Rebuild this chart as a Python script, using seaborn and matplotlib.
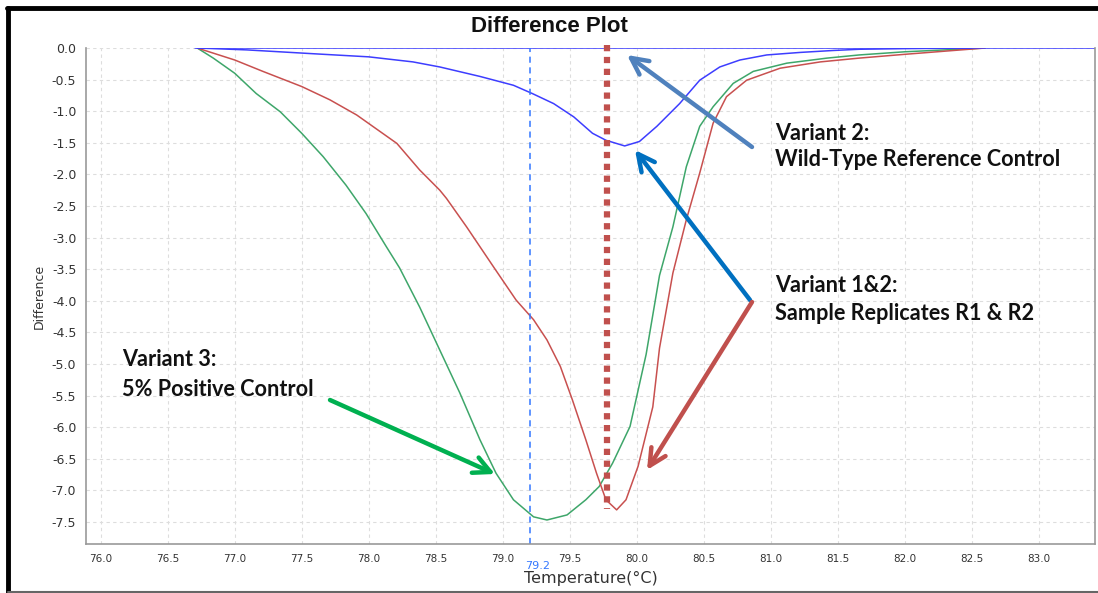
import numpy as np
import pandas as pd
import matplotlib
matplotlib.use("Agg")
import matplotlib.pyplot as plt
import seaborn as sns
from matplotlib.lines import Line2D

# ---------------- data ----------------
green_t = [76.72, 76.84, 77.00, 77.16, 77.34, 77.50, 77.66, 77.83, 77.98, 78.13, 78.23, 78.38,
           78.53, 78.68, 78.83, 78.95, 79.08, 79.23, 79.33, 79.48, 79.62, 79.72, 79.82, 79.95,
           80.07, 80.17, 80.27, 80.37, 80.47, 80.57, 80.72, 80.87, 81.12, 81.42, 81.66, 82.00,
           82.30, 82.60]
green_v = [0.00, -0.16, -0.40, -0.72, -1.01, -1.35, -1.72, -2.17, -2.62, -3.14, -3.48, -4.10,
           -4.78, -5.46, -6.20, -6.73, -7.15, -7.42, -7.47, -7.39, -7.15, -6.94, -6.57, -5.99,
           -4.85, -3.60, -2.83, -1.88, -1.24, -0.93, -0.56, -0.37, -0.24, -0.16, -0.11, -0.06,
           -0.03, 0.00]

red_t = [76.72, 77.00, 77.21, 77.50, 77.71, 77.91, 78.21, 78.38, 78.53, 78.58, 78.73, 78.93,
         79.10, 79.23, 79.33, 79.43, 79.52, 79.62, 79.70, 79.77, 79.85, 79.92, 80.01, 80.12,
         80.17, 80.27, 80.37, 80.47, 80.57, 80.67, 80.82, 81.07, 81.37, 81.66, 82.00, 82.30,
         82.60]
red_v = [0.00, -0.19, -0.37, -0.61, -0.82, -1.06, -1.51, -1.93, -2.25, -2.38, -2.83, -3.46,
         -3.99, -4.30, -4.62, -5.04, -5.57, -6.20, -6.73, -7.15, -7.31, -7.15, -6.62, -5.68,
         -4.75, -3.56, -2.72, -1.98, -1.19, -0.77, -0.51, -0.32, -0.22, -0.16, -0.10, -0.05,
         0.00]

blue_t = [76.72, 77.09, 77.58, 78.00, 78.33, 78.53, 78.83, 79.08, 79.22, 79.38, 79.53, 79.67,
          79.77, 79.91, 80.02, 80.15, 80.32, 80.47, 80.62, 80.77, 80.97, 81.22, 81.46, 81.66,
          82.00, 82.50]
blue_v = [0.00, -0.03, -0.09, -0.14, -0.22, -0.30, -0.45, -0.59, -0.72, -0.88, -1.09, -1.35,
          -1.46, -1.55, -1.48, -1.24, -0.88, -0.51, -0.30, -0.19, -0.11, -0.07, -0.04, -0.02,
          -0.01, 0.00]

ref_t = [76.70, 83.42]
ref_v = [0.00, 0.00]

marker_blue = 79.2
marker_red = 79.78

x_ticks = [76.0, 76.5, 77.0, 77.5, 78.0, 78.5, 79.0, 79.5, 80.0, 80.5, 81.0, 81.5, 82.0, 82.5, 83.0]
y_ticks = [0.0, -0.5, -1.0, -1.5, -2.0, -2.5, -3.0, -3.5, -4.0, -4.5, -5.0, -5.5, -6.0, -6.5, -7.0, -7.5]

frames = []
for name, t, v in [("Variant 3", green_t, green_v), ("Variant 1&2", red_t, red_v),
                   ("Variant 2", blue_t, blue_v), ("Ref", ref_t, ref_v)]:
    frames.append(pd.DataFrame({"Temperature": t, "Difference": v, "series": name}))
df = pd.concat(frames, ignore_index=True)

palette = {"Variant 3": "#3ea66a", "Variant 1&2": "#c8504f", "Variant 2": "#3d3dff", "Ref": "#3d3dff"}

# ---------------- figure ----------------
sns.set_style("white")
fig = plt.figure(figsize=(10.98, 5.93), dpi=100)
ax = fig.add_axes([86/1098, 1-544/593, (1095-86)/1098, (544-48)/593])

sns.lineplot(data=df, x="Temperature", y="Difference", hue="series", palette=palette,
             sort=False, estimator=None, legend=False, linewidth=1.1, ax=ax)

ax.set_xlim(75.89, 83.42)
ax.set_ylim(-7.85, 0.0)
ax.set_xticks(x_ticks)
ax.set_xticklabels([f"{t:.1f}" for t in x_ticks], fontsize=7.5, color="#333333")
ax.set_yticks(y_ticks)
ax.set_yticklabels([f"{t:.1f}" for t in y_ticks], fontsize=9, color="#333333")
ax.grid(True, color="#dddddd", linestyle=(0, (3, 3)), linewidth=0.8)
ax.tick_params(axis="both", length=3, color="#999999", pad=4)
for s in ["left", "bottom", "right"]:
    ax.spines[s].set_color("#999999")
    ax.spines[s].set_linewidth(1.2)
ax.spines["top"].set_visible(False)

ax.set_xlabel("Temperature(°C)", fontsize=11.5, color="#333333", labelpad=5)
ax.set_ylabel("Difference", fontsize=9, color="#333333", labelpad=4)

# vertical marker lines
ax.axvline(marker_blue, color="#3377ff", linestyle=(0, (4, 3)), linewidth=1.1)
ax.plot([marker_red, marker_red], [0.05, -7.3], color="#c0504d", linewidth=4.5,
        linestyle=(0, (1.0, 0.9)), clip_on=False, solid_capstyle="butt", dash_capstyle="butt")
ax.text(marker_blue + 0.06, -8.12, "79.2", color="#3377ff", fontsize=8, ha="center", va="top",
        clip_on=False)

# title
fig.text(0.5, 1-27/593, "Difference Plot", ha="center", va="center", fontsize=16,
         fontweight="bold", family="Liberation Sans", color="#111111")

# annotations
tkw = dict(fontsize=15.6, fontweight="bold", family="Lato", color="#111111", va="center", ha="left")
fig.text(775/1098, 1-133/593, "Variant 2:", **tkw)
fig.text(775/1098, 1-160/593, "Wild-Type Reference Control", **tkw)
fig.text(775/1098, 1-285/593, "Variant 1&2:", **tkw)
fig.text(775/1098, 1-313/593, "Sample Replicates R1 & R2", **tkw)
fig.text(122/1098, 1-360/593, "Variant 3:", **tkw)
fig.text(122/1098, 1-390/593, "5% Positive Control", **tkw)

def farrow(x0, y0, x1, y1, color):
    ax.annotate("", xy=(x1/1098, 1-y1/593), xytext=(x0/1098, 1-y0/593),
                xycoords="figure fraction", textcoords="figure fraction",
                arrowprops=dict(arrowstyle="->,head_length=1.2,head_width=0.6",
                                color=color, lw=3.2, shrinkA=0, shrinkB=0),
                annotation_clip=False)

farrow(752, 147, 627, 55, "#4f81bd")
farrow(750, 300, 635, 150, "#0070c0")
farrow(752, 302, 647, 470, "#c0504d")
farrow(330, 400, 495, 474, "#00b050")

# figure frame
fig.add_artist(Line2D([8/1098, 8/1098], [0, 1-8/593], transform=fig.transFigure, color="black", lw=3.5))
fig.add_artist(Line2D([6.5/1098, 1], [1-8/593, 1-8/593], transform=fig.transFigure, color="black", lw=3.5))
fig.add_artist(Line2D([8/1098, 1], [1/593, 1/593], transform=fig.transFigure, color="#666666", lw=1.5))

fig.savefig("out.png", dpi=100)
